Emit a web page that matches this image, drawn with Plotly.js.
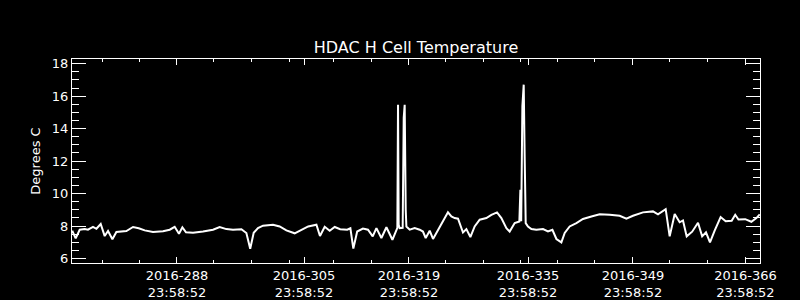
<!DOCTYPE html>
<html><head><meta charset="utf-8">
<script src="https://cdn.plot.ly/plotly-3.0.1.min.js"></script>
<style>html,body{margin:0;padding:0;background:#000;}#chart{width:800px;height:300px;}</style>
</head><body><div id="chart"></div>
<script>
// Day of year 2016 (fractional) for each sample
const dayOfYear = [274.03,274.50,275.04,275.72,276.16,276.84,277.30,277.88,278.42,278.87,279.46,280.00,281.35,282.25,283.02,283.83,284.95,286.30,287.21,287.88,288.46,288.92,289.41,290.36,291.71,293.06,293.96,294.87,295.76,296.90,297.57,298.09,298.56,299.14,299.82,301.17,302.07,302.98,304.10,305.22,305.93,307.04,307.52,308.16,308.83,309.51,310.25,311.20,311.63,312.03,312.55,313.33,314.01,314.65,315.15,315.82,316.50,317.31,317.85,317.98,318.07,318.16,318.29,318.70,318.84,318.97,319.11,319.20,319.65,320.32,321.00,321.44,321.81,322.35,322.80,323.47,324.15,324.82,325.28,325.73,326.18,326.85,327.31,327.85,328.43,329.11,330.01,330.69,331.45,332.04,332.72,333.16,333.84,334.47,334.61,334.72,334.88,335.06,335.19,335.33,335.64,336.10,336.77,337.67,338.34,338.94,339.48,340.15,340.60,341.27,342.18,343.07,344.21,345.33,346.68,348.03,348.94,349.83,351.18,352.53,353.21,354.25,354.79,355.47,356.14,356.59,357.09,357.83,358.62,359.18,359.70,360.24,360.87,361.68,362.36,363.17,363.65,364.09,365.00,365.83,366.51,366.96];
// HDAC H cell temperature, degrees C
const tempC = [7.71,7.24,7.77,7.81,7.77,7.94,7.83,8.12,7.38,7.69,7.18,7.63,7.69,7.94,7.86,7.73,7.63,7.68,7.77,7.95,7.52,7.92,7.61,7.58,7.66,7.77,7.94,7.81,7.77,7.80,7.57,6.60,7.58,7.87,8.02,8.08,7.97,7.73,7.55,7.80,7.97,8.08,7.38,7.95,7.71,7.94,7.80,7.77,7.86,6.61,7.66,7.84,7.77,7.36,7.87,7.26,7.92,7.15,7.71,7.89,15.47,8.08,7.87,7.89,14.67,15.47,9.00,7.97,7.77,7.87,7.77,7.66,7.26,7.71,7.20,7.77,8.28,8.84,8.59,8.49,8.45,7.60,7.81,7.32,7.97,8.39,8.49,8.69,8.84,8.49,7.87,7.66,8.18,8.28,10.23,8.29,15.37,16.71,12.29,8.18,7.97,7.81,7.77,7.81,7.66,7.77,7.20,6.99,7.57,7.97,8.18,8.43,8.59,8.72,8.69,8.63,8.45,8.63,8.84,8.90,8.72,9.04,7.36,8.74,8.23,8.34,7.36,7.65,8.20,7.36,7.61,6.99,7.71,8.55,8.29,8.32,8.69,8.40,8.42,8.26,8.49,8.72];

const majorTickDays = [288.19, 305.36, 319.55, 335.64, 349.83, 365.03];
const tickDates = ["2016-288", "2016-305", "2016-319", "2016-335", "2016-349", "2016-366"];
const tickTimes = ["23:58:52", "23:58:52", "23:58:52", "23:58:52", "23:58:52", "23:58:52"];
const minorTickDays = [278.11, 283.06, 293.19, 298.20, 303.39, 309.41, 314.42, 324.55, 329.56, 334.69, 339.69, 344.69, 354.83, 359.97];

const tickText = tickDates.map((d, i) => d + "<br>" + tickTimes[i]);
const FONT = "DejaVu Sans, sans-serif";

const trace = {
  x: dayOfYear, y: tempC, type: "scatter", mode: "lines",
  line: {color: "#ffffff", width: 2}, hoverinfo: "skip"
};

const layout = {
  width: 800, height: 300,
  margin: {l: 72, r: 40, t: 59, b: 37},
  paper_bgcolor: "#000000", plot_bgcolor: "#000000",
  font: {family: FONT, color: "#ffffff", size: 13},
  showlegend: false,
  title: {text: "HDAC H Cell Temperature", font: {family: FONT, size: 16, color: "#ffffff"},
          x: 0.5, xref: "paper", y: 1 - 47/300, yref: "container", yanchor: "middle"},
  xaxis: {
    range: [274, 367], showgrid: false, zeroline: false,
    showline: true, linecolor: "#ffffff", linewidth: 1, mirror: "ticks",
    ticks: "inside", ticklen: 6, tickwidth: 1, tickcolor: "#ffffff",
    tickmode: "array", tickvals: majorTickDays, ticktext: tickText,
    tickfont: {family: FONT, size: 13, color: "#ffffff"},
    minor: {tickmode: "array", tickvals: minorTickDays, ticks: "inside", ticklen: 3, tickwidth: 1, tickcolor: "#ffffff", showgrid: false}
  },
  yaxis: {
    range: [5.72, 18.29], showgrid: false, zeroline: false,
    showline: true, linecolor: "#ffffff", linewidth: 1, mirror: "ticks",
    ticks: "inside", ticklen: 14, tickwidth: 1, tickcolor: "#ffffff",
    tickmode: "linear", tick0: 6, dtick: 2,
    tickfont: {family: FONT, size: 13, color: "#ffffff"},
    title: {text: "Degrees C", font: {family: FONT, size: 13, color: "#ffffff"}, standoff: 8},
    minor: {tickmode: "linear", tick0: 6, dtick: 0.5, ticks: "inside", ticklen: 7, tickwidth: 1, tickcolor: "#ffffff", showgrid: false}
  }
};

Plotly.newPlot("chart", [trace], layout, {staticPlot: true, displayModeBar: false});
</script>
</body></html>
